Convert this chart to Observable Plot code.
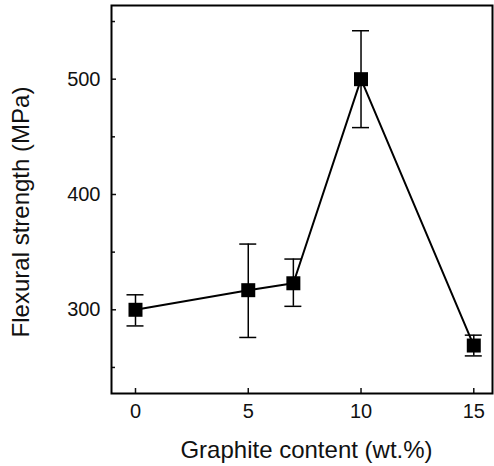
<!DOCTYPE html>
<html>
<head>
<meta charset="utf-8">
<script src="https://cdn.jsdelivr.net/npm/d3@7"></script>
<script src="https://cdn.jsdelivr.net/npm/@observablehq/plot@0.6"></script>
<style>
  html, body { margin: 0; padding: 0; background: #fff; }
  svg { display: block; }
</style>
</head>
<body>
<div id="chart"></div>
<script>
const graphite = [0, 5, 7, 10, 15];
const strength = [300, 317, 323, 500, 269];
const errHigh = [313, 357, 344, 542, 278];
const errLow = [286, 276, 303, 458, 260];
const xTicks = [0, 5, 10, 15];
const yTicks = [300, 400, 500];
const yMinorTicks = [250, 350, 450, 550];
const xLabel = "Graphite content (wt.%)";
const yLabel = "Flexural strength (MPa)";

const data = graphite.map((g, i) => ({x: g, y: strength[i], hi: errHigh[i], lo: errLow[i]}));
const font = "'Liberation Sans', Arial, Helvetica, sans-serif";

const chart = Plot.plot({
  width: 494,
  height: 466,
  marginLeft: 111,
  marginRight: 2,
  marginTop: 5,
  marginBottom: 73,
  style: {fontFamily: font, color: "#111", background: "#fff"},
  x: {domain: [-1.064, 15.83]},
  y: {domain: [227.4, 563.9]},
  marks: [
    Plot.axisX({ticks: xTicks, tickSize: -5, tickPadding: 15, strokeWidth: 1.5, fontSize: 20, label: null}),
    Plot.axisY({ticks: yTicks, tickSize: -5, tickPadding: 16, strokeWidth: 1.5, fontSize: 20, label: null}),
    Plot.axisY({ticks: yMinorTicks, tickSize: -4, tickFormat: () => "", strokeWidth: 1.5, label: null}),
    Plot.frame({stroke: "#000", strokeWidth: 2}),
    Plot.ruleX(data, {x: "x", y1: "lo", y2: "hi", stroke: "#000", strokeWidth: 1.5}),
    Plot.ruleY(data, {y: "hi", x1: "x", x2: "x", insetLeft: -8.5, insetRight: -8.5, stroke: "#000", strokeWidth: 1.5}),
    Plot.ruleY(data, {y: "lo", x1: "x", x2: "x", insetLeft: -8.5, insetRight: -8.5, stroke: "#000", strokeWidth: 1.5}),
    Plot.line(data, {x: "x", y: "y", stroke: "#000", strokeWidth: 2}),
    Plot.dot(data, {x: "x", y: "y", symbol: "square", r: 7.9, fill: "#000", stroke: "none"}),
    Plot.text([xLabel], {frameAnchor: "bottom", textAnchor: "middle", dx: 4.5, dy: 57, fontSize: 24, letterSpacing: 0.5, fill: "#111", lineAnchor: "middle", text: d => d}),
    Plot.text([yLabel], {frameAnchor: "left", textAnchor: "middle", dx: -90, dy: 12.5, rotate: -90, fontSize: 24, letterSpacing: 0.5, fill: "#111", lineAnchor: "middle", text: d => d})
  ]
});
document.getElementById("chart").appendChild(chart);
</script>
</body>
</html>
